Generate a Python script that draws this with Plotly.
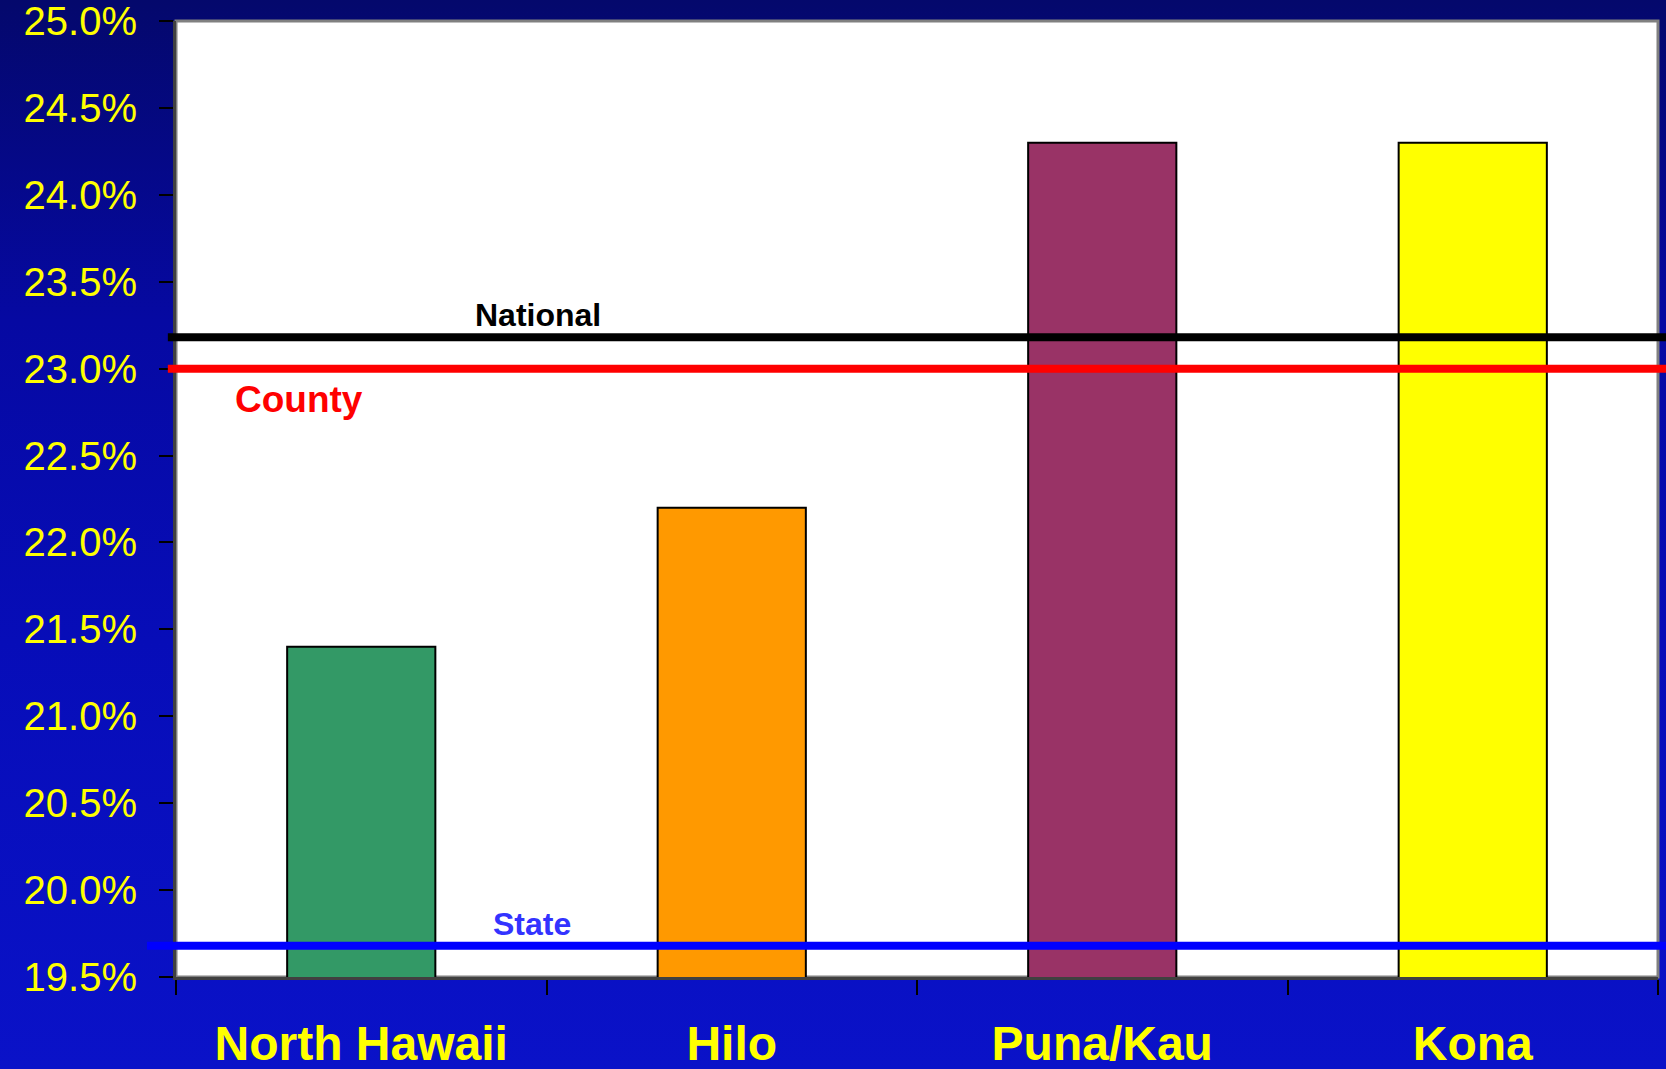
import base64
import plotly.graph_objects as go

# ---- data ----
categories = ["North Hawaii", "Hilo", "Puna/Kau", "Kona"]
values = [21.4, 22.2, 24.3, 24.3]
bar_colors = ["#339966", "#FF9900", "#993366", "#FFFF00"]

ref_names = ["National", "County", "State"]
ref_values = [23.18, 23.0, 19.68]
ref_colors = ["#000000", "#FF0000", "#0000FF"]
ref_text_colors = ["#000000", "#FF0000", "#3333FF"]

y_ticks = [19.5, 20.0, 20.5, 21.0, 21.5, 22.0, 22.5, 23.0, 23.5, 24.0, 24.5, 25.0]

W, H = 1666, 1069
ML, MR, MT, MB = 176, 8, 21, 92
PW, PH = W - ML - MR, H - MT - MB

fig = go.Figure()
fig.add_trace(go.Bar(
    x=categories, y=values,
    marker=dict(color=bar_colors, line=dict(color="#000000", width=2)),
    width=0.4,
    showlegend=False,
    hoverinfo="x+y",
))

# gradient background as svg image
svg = (
    '<svg xmlns="http://www.w3.org/2000/svg" width="100" height="100" preserveAspectRatio="none">'
    '<defs><linearGradient id="g" x1="0" y1="0" x2="0" y2="1">'
    '<stop offset="0" stop-color="#04086C"/>'
    '<stop offset="0.3" stop-color="#0609A2"/>'
    '<stop offset="0.6" stop-color="#070DB8"/>'
    '<stop offset="1" stop-color="#0A12C8"/>'
    '</linearGradient></defs>'
    '<rect width="100" height="100" fill="url(#g)"/></svg>'
)
src = "data:image/svg+xml;base64," + base64.b64encode(svg.encode()).decode()
fig.add_layout_image(dict(
    source=src, xref="paper", yref="paper",
    x=-ML / PW, y=1 + MT / PH, sizex=W / PW, sizey=H / PH,
    xanchor="left", yanchor="top", sizing="stretch", layer="below",
))

# white plot area with grey frame
fig.add_shape(type="rect", xref="paper", yref="paper", x0=0, x1=1, y0=0, y1=1,
              fillcolor="#FFFFFF", line=dict(color="#808080", width=3), layer="below")

# reference lines (start slightly left of the axis)
line_starts = [-0.0055, -0.0055, -0.0196]
for val, col, x0 in zip(ref_values, ref_colors, line_starts):
    fig.add_shape(type="line", xref="paper", yref="y", x0=x0, x1=1.01, y0=val, y1=val,
                  line=dict(color=col, width=8), layer="above")

# reference labels
FONT = "Liberation Sans, Arial"
fig.add_annotation(x=0.244, xref="paper", y=ref_values[0], yref="y", text="<b>National</b>",
                   showarrow=False, xanchor="center", yanchor="bottom", yshift=2,
                   font=dict(family=FONT, size=32, color=ref_text_colors[0]))
fig.add_annotation(x=0.083, xref="paper", y=ref_values[1], yref="y", text="<b>County</b>",
                   showarrow=False, xanchor="center", yanchor="top", yshift=-8,
                   font=dict(family=FONT, size=37, color=ref_text_colors[1]))
fig.add_annotation(x=0.240, xref="paper", y=ref_values[2], yref="y", text="<b>State</b>",
                   showarrow=False, xanchor="center", yanchor="bottom", yshift=2,
                   font=dict(family=FONT, size=32, color=ref_text_colors[2]))

fig.update_layout(
    width=W, height=H,
    margin=dict(l=ML, r=MR, t=MT, b=MB, pad=0, autoexpand=False),
    paper_bgcolor="#0609A2",
    plot_bgcolor="rgba(0,0,0,0)",
    bargap=0.6,
    xaxis=dict(
        type="category", tickson="boundaries", ticks="outside", ticklen=15,
        tickwidth=2, tickcolor="#000000", automargin=False,
        showline=True, linecolor="#404040", linewidth=3,
        showgrid=False, zeroline=False,
        tickfont=dict(family=FONT, size=48, color="#FFFF00", weight="bold"),
        ticklabelstandoff=22, ticklabeloverflow="allow",
    ),
    yaxis=dict(
        range=[19.5, 25.0], tickvals=y_ticks,
        ticktext=[f"{v:.1f}%" for v in y_ticks],
        ticks="outside", ticklen=14, tickwidth=2, tickcolor="#000000", automargin=False,
        showline=True, linecolor="#404040", linewidth=3,
        showgrid=False, zeroline=False,
        tickfont=dict(family=FONT, size=40, color="#FFFF00"),
        ticklabelstandoff=14, ticklabeloverflow="allow",
    ),
)

fig.write_html(
    "out.html",
    config={"displayModeBar": False},
    post_script="document.body.style.margin='0';document.body.style.overflow='hidden';",
)
